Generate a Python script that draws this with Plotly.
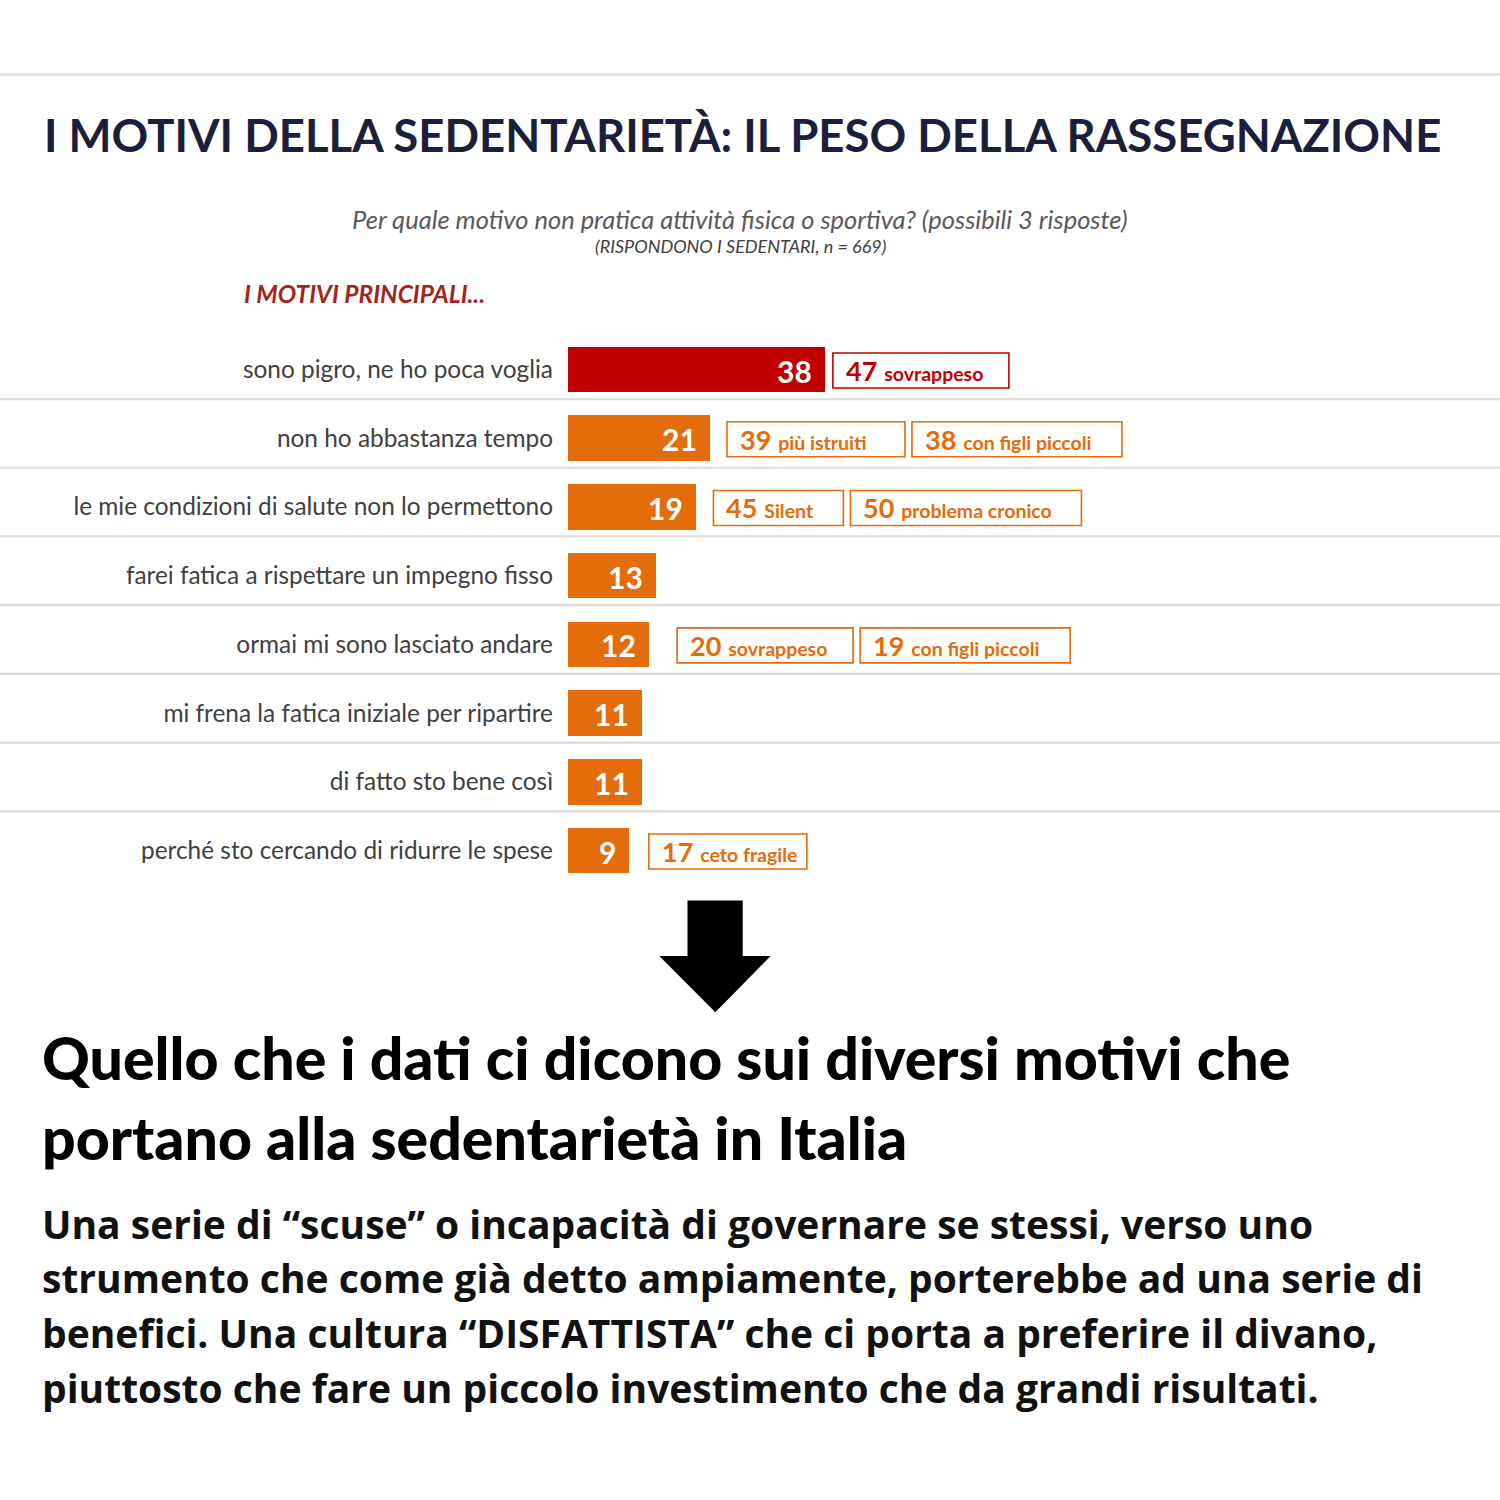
import plotly.graph_objects as go

# ---------------- data ----------------
categories = [
    "sono pigro, ne ho poca voglia",
    "non ho abbastanza tempo",
    "le mie condizioni di salute non lo permettono",
    "farei fatica a rispettare un impegno fisso",
    "ormai mi sono lasciato andare",
    "mi frena la fatica iniziale per ripartire",
    "di fatto sto bene così",
    "perché sto cercando di ridurre le spese",
]
values = [38, 21, 19, 13, 12, 11, 11, 9]

callout_values = [[47], [39, 38], [45, 50], [], [20, 19], [], [], [17]]
callout_labels = [["sovrappeso"], ["più istruiti", "con figli piccoli"],
                  ["Silent", "problema cronico"], [], ["sovrappeso", "con figli piccoli"],
                  [], [], ["ceto fragile"]]

title = "I MOTIVI DELLA SEDENTARIETÀ: IL PESO DELLA RASSEGNAZIONE"
question = "Per quale motivo non pratica attività fisica o sportiva? (possibili 3 risposte)"
base_note = "(RISPONDONO I SEDENTARI, n = 669)"
section = "I MOTIVI PRINCIPALI..."
heading_lines = ["Quello che i dati ci dicono sui diversi motivi che",
                 "portano alla sedentarietà in Italia"]
paragraph_lines = [
    "Una serie di “scuse” o incapacità di governare se stessi, verso uno",
    "strumento che come già detto ampiamente, porterebbe ad una serie di",
    "benefici. Una cultura “DISFATTISTA” che ci porta a preferire il divano,",
    "piuttosto che fare un piccolo investimento che da grandi risultati.",
]

# ---------------- style ----------------
W = H = 1500
RED = "#c00000"
ORANGE = "#e46c0a"
bar_colors = [RED] + [ORANGE] * (len(values) - 1)
PX_PER_UNIT = 6.76
BAR_X0 = 568
ROW_PX = 68.7
first_gap = [8, 17, 17, 0, 28, 0, 0, 20]
box_widths = [[176], [178, 210], [130, 231], [], [176, 210], [], [], [158]]
box_gap = 7
box_half_h = 17.5


def px(x):
    return x / W


def py(y):
    return 1 - y / H


row_top, row_bot = 335.14, 884.86

fig = go.Figure()
fig.add_trace(go.Bar(
    y=list(range(len(values))), x=values, orientation="h",
    marker=dict(color=bar_colors, line=dict(width=0)),
    width=0.662, hoverinfo="skip", showlegend=False,
))

annotations = []
shapes = []
# value labels inside bars
for i, v in enumerate(values):
    annotations.append(dict(
        x=v, y=i, xref="x", yref="y", text=f"<b>{v}</b>", showarrow=False,
        xanchor="right", yanchor="middle", xshift=-11, yshift=-1,
        font=dict(family="Lato", size=30, color="white"),
    ))

# callout boxes
for i, (nums, labs) in enumerate(zip(callout_values, callout_labels)):
    col = RED if i == 0 else ORANGE
    shift = first_gap[i]
    for j, (n, lab) in enumerate(zip(nums, labs)):
        w = box_widths[i][j]
        x0 = values[i] + shift / PX_PER_UNIT
        x1 = x0 + w / PX_PER_UNIT
        shapes.append(dict(type="rect", xref="x", yref="y", x0=x0, x1=x1,
                           y0=i - box_half_h / ROW_PX + 0.015,
                           y1=i + box_half_h / ROW_PX + 0.015,
                           line=dict(color=col, width=1.6), fillcolor="white"))
        annotations.append(dict(
            x=x0, y=i + 0.015, xref="x", yref="y",
            text=f"<b>{n}</b> <span style='font-size:19.5px'><b>{lab}</b></span>",
            showarrow=False, xanchor="left", yanchor="middle", xshift=11,
            align="left", font=dict(family="Lato", size=27, color=col),
        ))
        shift += w + box_gap

# texts
annotations += [
    dict(x=px(42), y=py(135), xref="paper", yref="paper", text=f"<b>{title}</b>",
         showarrow=False, xanchor="left", yanchor="middle",
         font=dict(family="Lato", size=45.5, color="#1b1f3b")),
    dict(x=px(740), y=py(219), xref="paper", yref="paper", text=question,
         showarrow=False, xanchor="center", yanchor="middle",
         font=dict(family="Lato", size=25.5, color="#595959", style="italic")),
    dict(x=px(740), y=py(246), xref="paper", yref="paper", text=base_note,
         showarrow=False, xanchor="center", yanchor="middle",
         font=dict(family="Lato", size=18, color="#404040", style="italic")),
    dict(x=px(242), y=py(294), xref="paper", yref="paper", text=f"<b>{section}</b>",
         showarrow=False, xanchor="left", yanchor="middle",
         font=dict(family="Lato", size=24.5, color="#a5231a", style="italic")),
]
for k, line in enumerate(heading_lines):
    annotations.append(dict(
        x=px(40), y=py(1057 + 80 * k), xref="paper", yref="paper", text=line,
        showarrow=False, xanchor="left", yanchor="middle",
        font=dict(family="Lato Black, Lato", size=59, color="#000000", weight=900)))
for k, line in enumerate(paragraph_lines):
    annotations.append(dict(
        x=px(40), y=py(1223 + 54.7 * k), xref="paper", yref="paper", text=line,
        showarrow=False, xanchor="left", yanchor="middle",
        font=dict(family="Open Sans", size=39, color="#111111", weight=700)))

# row separators
for i in range(len(values) - 1):
    shapes.append(dict(type="line", xref="paper", yref="y", x0=0, x1=1,
                       y0=i + 0.43, y1=i + 0.43, line=dict(color="#dcdcdc", width=2.2),
                       layer="below"))
# top rule
shapes.append(dict(type="line", xref="paper", yref="paper", x0=0, x1=1,
                   y0=py(74.5), y1=py(74.5), line=dict(color="#e3e3e3", width=3)))
# arrow
pts = [(687.5, 900.5), (742.7, 900.5), (742.7, 956), (770.7, 956), (715.3, 1012.3),
       (659.3, 956), (687.5, 956)]
path = "M " + " L ".join(f"{px(a):.5f},{py(b):.5f}" for a, b in pts) + " Z"
shapes.append(dict(type="path", xref="paper", yref="paper", path=path,
                   fillcolor="black", line=dict(width=0)))

fig.update_layout(
    width=W, height=H, margin=dict(l=0, r=0, t=0, b=0),
    paper_bgcolor="white", plot_bgcolor="rgba(0,0,0,0)",
    xaxis=dict(domain=[px(BAR_X0), 1], range=[0, (W - BAR_X0) / PX_PER_UNIT],
               visible=False, fixedrange=True),
    yaxis=dict(domain=[1 - row_bot / H, 1 - row_top / H], range=[len(values) - 0.5, -0.5],
               tickmode="array", tickvals=list(range(len(values))), ticktext=categories,
               showgrid=False, zeroline=False, showline=False, ticks="",
               ticklabelstandoff=14, fixedrange=True,
               tickfont=dict(family="Lato", size=24.4, color="#404040")),
    annotations=annotations, shapes=shapes, bargap=0,
)

fig.write_html("out.html", config={"displayModeBar": False, "staticPlot": True},
               post_script="document.body.style.margin='0';document.body.style.overflow='hidden';")
